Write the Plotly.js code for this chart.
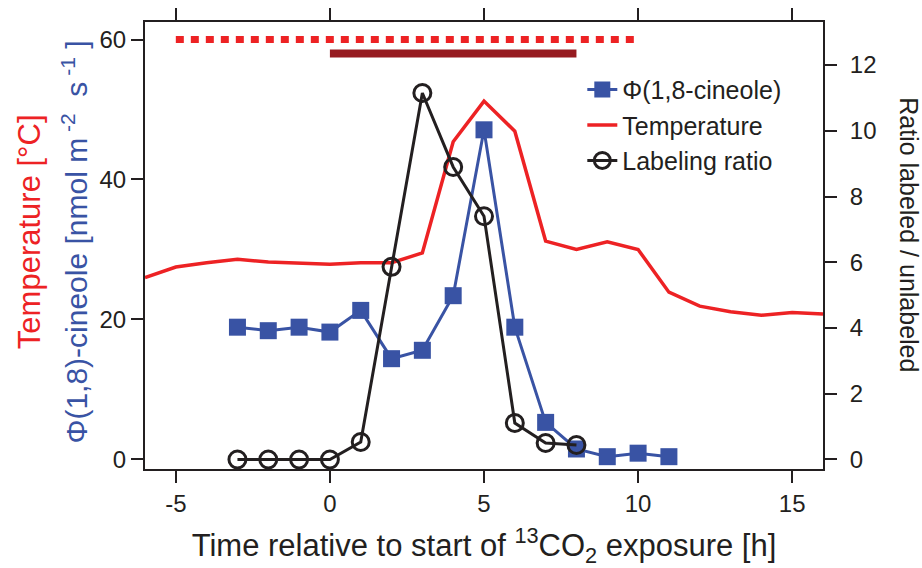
<!DOCTYPE html>
<html>
<head>
<meta charset="utf-8">
<script src="https://cdn.plot.ly/plotly-3.0.1.min.js"></script>
<style>html,body{margin:0;padding:0;background:#fff}#chart{width:922px;height:568px}</style>
</head>
<body>
<div id="chart"></div>
<script>
// Time axis (h relative to start of 13CO2 exposure)
const cineoleTime = [-3,-2,-1,0,1,2,3,4,5,6,7,8,9,10,11];
const cineoleFlux = [18.9,18.4,18.9,18.2,21.3,14.4,15.6,23.4,47.1,18.9,5.3,1.5,0.4,0.9,0.4];

const tempTime = [-6,-5,-4,-3,-2,-1,0,1,2,3,4,5,6,7,8,9,10,11,12,13,14,15,16];
const temperature = [26.0,27.5,28.1,28.6,28.2,28.0,27.9,28.1,28.1,29.5,45.4,51.2,46.9,31.2,30.0,31.1,30.0,23.9,21.9,21.1,20.6,21.0,20.8];

const ratioTime = [-3,-2,-1,0,1,2,3,4,5,6,7,8];
const labelingRatio = [0,0,0,0,0.53,5.86,11.15,8.9,7.4,1.11,0.50,0.44];

// Periods shown as bars at the top
const heatPeriod = [-5,10];
const heatLevel = [60,60];
const labelPeriod = [0,8];
const labelLevel = [58,58];

const xTicks = [-5,0,5,10,15];
const yTicks = [0,20,40,60];
const y2Ticks = [0,2,4,6,8,10,12];

const RED = '#ed2224', BLUE = '#3953a4', BLACK = '#231f20', DARKRED = '#961b20';
const FONT = 'Liberation Sans, Arial, sans-serif';

const traces = [
  {x: heatPeriod, y: heatLevel, mode: 'lines', showlegend: false, hoverinfo: 'skip',
   line: {color: RED, width: 7, dash: '8px,7px'}},
  {x: labelPeriod, y: labelLevel, mode: 'lines', showlegend: false, hoverinfo: 'skip',
   line: {color: DARKRED, width: 8}},
  {x: tempTime, y: temperature, mode: 'lines', name: 'Temperature', legendrank: 2,
   line: {color: RED, width: 3.5}},
  {x: cineoleTime, y: cineoleFlux, mode: 'lines+markers', name: 'Φ(1,8-cineole)', legendrank: 1,
   line: {color: BLUE, width: 3},
   marker: {symbol: 'square', size: 17, color: BLUE}},
  {x: ratioTime, y: labelingRatio, mode: 'lines+markers', name: 'Labeling ratio', legendrank: 3,
   yaxis: 'y2', line: {color: BLACK, width: 3},
   marker: {symbol: 'circle-open', size: 17, color: BLACK, line: {width: 3, color: BLACK}}}
];

const layout = {
  width: 922, height: 568,
  margin: {l: 145, r: 99, t: 22, b: 99, pad: 0},
  paper_bgcolor: '#fff', plot_bgcolor: '#fff',
  font: {family: FONT, color: BLACK},
  showlegend: true,
  legend: {x: 0.645, y: 0.9, xanchor: 'left', yanchor: 'top', bgcolor: 'rgba(0,0,0,0)',
           font: {size: 25, family: FONT, color: BLACK}, traceorder: 'normal'},
  xaxis: {range: [-6, 16], tickvals: xTicks, ticktext: xTicks.map(String),
          showgrid: false, zeroline: false, showline: true, linecolor: BLACK, linewidth: 2,
          mirror: 'ticks', ticks: 'outside', ticklen: 12, tickwidth: 2, tickcolor: BLACK,
          tickfont: {size: 24, family: FONT, color: BLACK},
          title: {text: 'Time relative to start of <sup>13</sup>CO<sub>2</sub> exposure [h]',
                  font: {size: 31, family: FONT, color: BLACK}, standoff: 20}},
  yaxis: {range: [-1.36, 62.5], tickvals: yTicks, ticktext: yTicks.map(String),
          showgrid: false, zeroline: false, showline: true, linecolor: BLACK, linewidth: 2,
          ticks: 'outside', ticklen: 12, tickwidth: 2, tickcolor: BLACK,
          tickfont: {size: 24, family: FONT, color: BLACK}},
  yaxis2: {range: [-0.29, 13.31], overlaying: 'y', side: 'right', tickvals: y2Ticks,
           ticktext: y2Ticks.map(String),
           showgrid: false, zeroline: false, showline: true, linecolor: BLACK, linewidth: 2,
           ticks: 'outside', ticklen: 12, tickwidth: 2, tickcolor: BLACK, ticklabelstandoff: 8,
           tickfont: {size: 24, family: FONT, color: BLACK}},
  annotations: [
    {xref: 'paper', yref: 'paper', x: -0.171, y: 0.53, xanchor: 'center', yanchor: 'middle',
     textangle: -90, showarrow: false, text: 'Temperature [°C]',
     font: {size: 31, family: FONT, color: RED}},
    {xref: 'paper', yref: 'paper', x: -0.103, y: 0.507, xanchor: 'center', yanchor: 'middle',
     textangle: -90, showarrow: false, text: 'Φ(1,8)-cineole [nmol m<sup> -2</sup>  s<sup> -1</sup> ]',
     font: {size: 30, family: FONT, color: BLUE}},
    {xref: 'paper', yref: 'paper', x: 1.127, y: 0.525, xanchor: 'center', yanchor: 'middle',
     textangle: 90, showarrow: false, text: 'Ratio labeled / unlabeled',
     font: {size: 25, family: FONT, color: BLACK}}
  ]
};

Plotly.newPlot('chart', traces, layout, {displayModeBar: false, staticPlot: true});
</script>
</body>
</html>
